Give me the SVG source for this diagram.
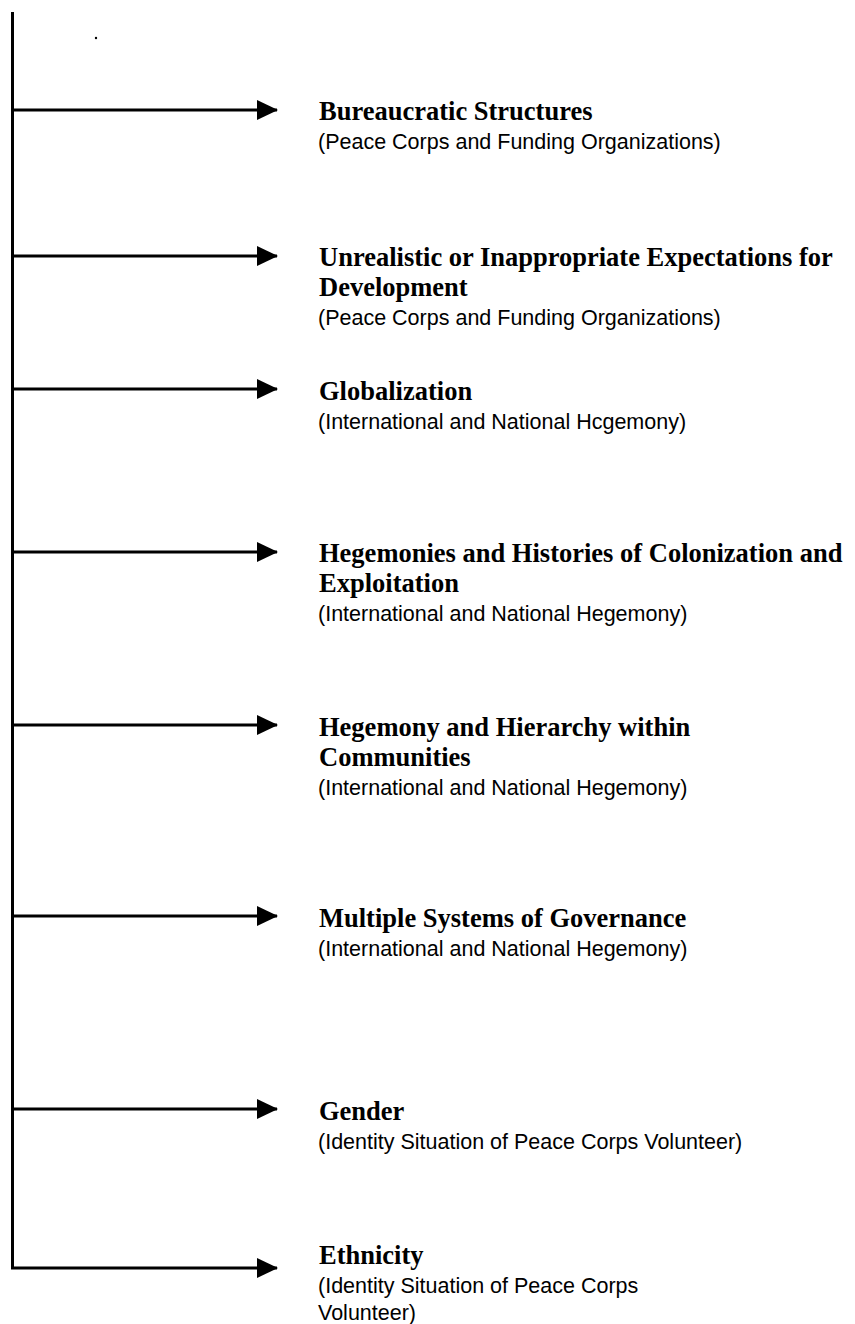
<svg xmlns="http://www.w3.org/2000/svg" width="855" height="1324" viewBox="0 0 855 1324">
<style>
.t{font-family:"Liberation Serif","Times New Roman",serif;font-weight:bold;font-size:26.5px;fill:#000}
.s{font-family:"Liberation Sans",Arial,sans-serif;font-size:21.5px;fill:#000}
.ln{stroke:#000;stroke-width:3;fill:none}
</style>
<defs>
<marker id="ah" markerUnits="userSpaceOnUse" markerWidth="22" markerHeight="22" refX="20" refY="10" orient="auto" viewBox="0 0 22 22">
<path d="M0,0 L21,10 L0,20 Z" fill="#000"/>
</marker>
</defs>
<rect width="855" height="1324" fill="#fff"/>
<circle cx="96" cy="38" r="1.2" fill="#000"/>
<g id="connectors">
<path class="ln" d="M12.5,12 V1268"/>
<path class="ln" d="M12,110 H277" marker-end="url(#ah)"/>
<path class="ln" d="M12,256 H277" marker-end="url(#ah)"/>
<path class="ln" d="M12,389 H277" marker-end="url(#ah)"/>
<path class="ln" d="M12,552 H277" marker-end="url(#ah)"/>
<path class="ln" d="M12,725 H277" marker-end="url(#ah)"/>
<path class="ln" d="M12,916 H277" marker-end="url(#ah)"/>
<path class="ln" d="M12,1109 H277" marker-end="url(#ah)"/>
<path class="ln" d="M11,1268 H277" marker-end="url(#ah)"/>
</g>
<g id="n1"><text class="t" x="319" y="120">Bureaucratic Structures</text><text class="s" x="318" y="149">(Peace Corps and Funding Organizations)</text></g>
<g id="n2"><text class="t" x="319" y="266">Unrealistic or Inappropriate Expectations for</text><text class="t" x="319" y="296">Development</text><text class="s" x="318" y="325">(Peace Corps and Funding Organizations)</text></g>
<g id="n3"><text class="t" x="319" y="400">Globalization</text><text class="s" x="318" y="429">(International and National Hcgemony)</text></g>
<g id="n4"><text class="t" x="319" y="562">Hegemonies and Histories of Colonization and</text><text class="t" x="319" y="592">Exploitation</text><text class="s" x="318" y="621">(International and National Hegemony)</text></g>
<g id="n5"><text class="t" x="319" y="736">Hegemony and Hierarchy within</text><text class="t" x="319" y="766">Communities</text><text class="s" x="318" y="795">(International and National Hegemony)</text></g>
<g id="n6"><text class="t" x="319" y="927">Multiple Systems of Governance</text><text class="s" x="318" y="956">(International and National Hegemony)</text></g>
<g id="n7"><text class="t" x="319" y="1120">Gender</text><text class="s" x="318" y="1149">(Identity Situation of Peace Corps Volunteer)</text></g>
<g id="n8"><text class="t" x="319" y="1264">Ethnicity</text><text class="s" x="318" y="1293">(Identity Situation of Peace Corps</text><text class="s" x="318" y="1320">Volunteer)</text></g>
</svg>
